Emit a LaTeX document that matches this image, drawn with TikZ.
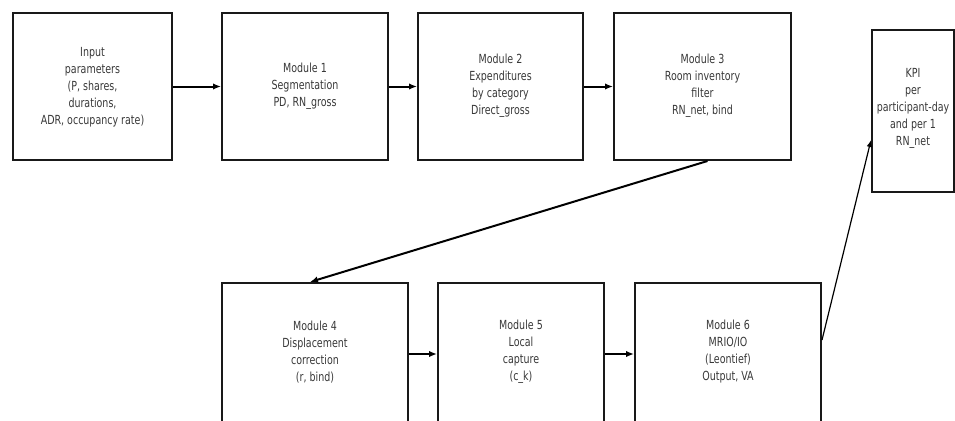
\documentclass[tikz,border=0pt]{standalone}
\usepackage{fontspec}
\setmainfont[FakeStretch=0.76]{DejaVu Sans}
\usetikzlibrary{arrows.meta}
\begin{document}
\begin{tikzpicture}[x=1pt,y=-1pt,
  box/.style={draw=black!90,line width=2pt,minimum width=#1,minimum height=147pt,inner sep=0pt},
  lowbox/.style={draw=black!90,line width=2pt,minimum width=#1,minimum height=142pt,inner sep=0pt},
  lbl/.style={align=center,font=\fontsize{12.5}{17}\selectfont,text=black!78},
  conn/.style={line width=2pt,-{Latex[length=8pt,width=6.5pt]}},
  thin/.style={line width=1.2pt,-{Latex[length=7pt,width=5.5pt]}}]
\useasboundingbox (0,0) rectangle (955,420);
\clip (0,0) rectangle (955,420);
% top row
\node[box=159pt] (inp) at (92.5,86.5) {};
\node[box=166pt] (m1) at (305,86.5) {};
\node[box=165pt] (m2) at (500.5,86.5) {};
\node[box=177pt] (m3) at (702.5,86.5) {};
\node[draw=black!90,line width=2pt,minimum width=82pt,minimum height=162pt,inner sep=0pt] (kpi) at (913,111) {};
% bottom row
\node[lowbox=186pt] (m4) at (315,354) {};
\node[lowbox=166pt] (m5) at (521,354) {};
\node[lowbox=186pt] (m6) at (728,354) {};
% labels
\node[lbl] (tinp) at (92.5,87) {Input\\parameters\\(P, shares,\\durations,\\ADR, occupancy rate)};
\node[lbl] (tm1) at (305,86) {Module 1\\Segmentation\\PD, RN\_gross};
\node[lbl] (tm2) at (500.5,86) {Module 2\\Expenditures\\by category\\Direct\_gross};
\node[lbl] (tm3) at (702.5,86) {Module 3\\Room inventory\\filter\\RN\_net, bind};
\node[lbl] (tkpi) at (913,108) {KPI\\per\\participant-day\\and per 1\\RN\_net};
\node[lbl] (tm4) at (315,352) {Module 4\\Displacement\\correction\\(r, bind)};
\node[lbl] (tm5) at (521,352) {Module 5\\Local\\capture\\(c\_k)};
\node[lbl] (tm6) at (728,352) {Module 6\\MRIO/IO\\(Leontief)\\Output, VA};
% connectors
\draw[conn] (inp.east) -- (m1.west);
\draw[conn] (m1.east) -- (m2.west);
\draw[conn] (m2.east) -- (m3.west);
\draw[conn] ([xshift=5pt]m3.south) -- ([xshift=-5pt]m4.north);
\draw[conn] (m4.east) -- (m5.west);
\draw[conn] (m5.east) -- (m6.west);
\draw[thin] ([yshift=14pt]m6.east) -- ([yshift=-29pt]kpi.west);
\end{tikzpicture}
\end{document}
